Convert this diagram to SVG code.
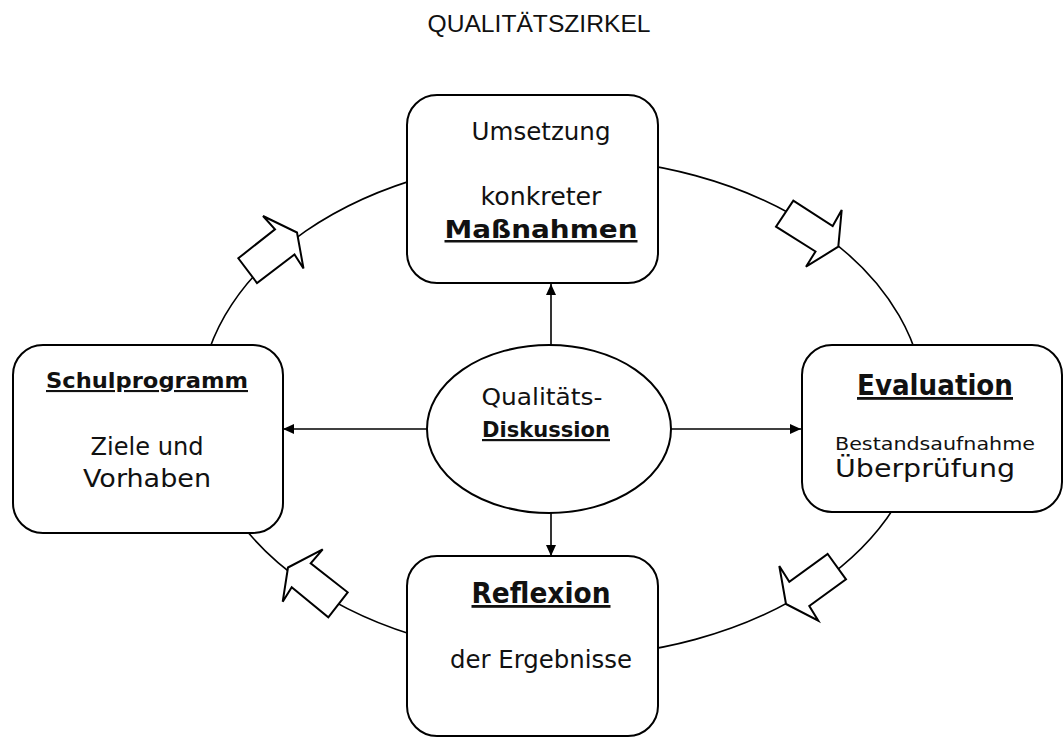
<svg xmlns="http://www.w3.org/2000/svg" width="1064" height="738" viewBox="0 0 1064 738">
<style>
.box{fill:#fff;stroke:#000;stroke-width:2}
.blk{fill:#fff;stroke:#000;stroke-width:2;stroke-linejoin:miter}
.ring{fill:none;stroke:#000;stroke-width:1.6}
.conn{stroke:#000;stroke-width:1.6;fill:none}
.t{font-family:"DejaVu Sans","Liberation Sans",sans-serif;fill:#111;text-anchor:middle}
.b{font-weight:bold;text-decoration:underline}
.title{font-family:"Liberation Sans",Arial,sans-serif;font-size:23px;fill:#111;text-anchor:middle}
</style>
<defs>
<marker id="ah" markerUnits="userSpaceOnUse" markerWidth="12" markerHeight="10" refX="11" refY="5" orient="auto">
<path d="M0,0 L11,5 L0,10 z" fill="#000"/>
</marker>
</defs>
<rect width="1064" height="738" fill="#fff"/>
<text class="title" x="539" y="32" textLength="223" lengthAdjust="spacingAndGlyphs">QUALITÄTSZIRKEL</text>

<ellipse class="ring" cx="562" cy="407.5" rx="362.6" ry="249.4"/>

<g id="connectors">
<line class="conn" x1="551" y1="345" x2="551" y2="284" marker-end="url(#ah)"/>
<line class="conn" x1="551" y1="513" x2="551" y2="556" marker-end="url(#ah)"/>
<line class="conn" x1="427" y1="429" x2="283" y2="429" marker-end="url(#ah)"/>
<line class="conn" x1="671" y1="429" x2="801" y2="429" marker-end="url(#ah)"/>
</g>

<g id="flow-arrows">
<polygon class="blk" points="238.3,258.3 275,229.3 263,216 297,232.5 303.5,268.5 294.5,254.5 257,283"/>
<polygon class="blk" points="793.3,200.7 832.7,226 841.7,210 838.3,246.7 806,266.7 815.5,251.5 776,226.7"/>
<polygon class="blk" points="288,567.5 322.7,549.3 310.7,563.3 347.7,592.3 328.3,617.3 291.7,587.3 282.7,601.7"/>
<polygon class="blk" points="827.7,554 846,579.3 809.3,606 818.3,620.7 786,604 779.3,566 789.3,581.7"/>
</g>

<g id="node-umsetzung">
<rect class="box" x="407" y="95" width="251" height="188" rx="30"/>
<text class="t" x="541" y="140" font-size="24" textLength="139" lengthAdjust="spacingAndGlyphs">Umsetzung</text>
<text class="t" x="541" y="205" font-size="24" textLength="121" lengthAdjust="spacingAndGlyphs">konkreter</text>
<text class="t b" x="541" y="238" font-size="25" textLength="193" lengthAdjust="spacingAndGlyphs">Maßnahmen</text>
</g>

<g id="node-schulprogramm">
<rect class="box" x="13" y="345" width="270" height="188" rx="30"/>
<text class="t b" x="147" y="388" font-size="21" textLength="202" lengthAdjust="spacingAndGlyphs">Schulprogramm</text>
<text class="t" x="147" y="455" font-size="24" textLength="113" lengthAdjust="spacingAndGlyphs">Ziele und</text>
<text class="t" x="147" y="487" font-size="24" textLength="128" lengthAdjust="spacingAndGlyphs">Vorhaben</text>
</g>

<g id="node-evaluation">
<rect class="box" x="802" y="345" width="260" height="167" rx="30"/>
<text class="t b" x="935" y="395" font-size="28" textLength="156" lengthAdjust="spacingAndGlyphs">Evaluation</text>
<text class="t" x="935" y="450" font-size="17" textLength="200" lengthAdjust="spacingAndGlyphs">Bestandsaufnahme</text>
<text class="t" x="925" y="477" font-size="24" textLength="180" lengthAdjust="spacingAndGlyphs">Überprüfung</text>
</g>

<g id="node-reflexion">
<rect class="box" x="407" y="556" width="251" height="180" rx="30"/>
<text class="t b" x="541" y="603" font-size="28" textLength="139" lengthAdjust="spacingAndGlyphs">Reflexion</text>
<text class="t" x="541" y="668" font-size="24" textLength="182" lengthAdjust="spacingAndGlyphs">der Ergebnisse</text>
</g>

<g id="node-diskussion">
<ellipse class="box" cx="549" cy="429" rx="122" ry="84"/>
<text class="t" x="542" y="405" font-size="23" textLength="121" lengthAdjust="spacingAndGlyphs">Qualitäts-</text>
<text class="t b" x="546" y="437" font-size="22" textLength="128" lengthAdjust="spacingAndGlyphs">Diskussion</text>
</g>
</svg>
